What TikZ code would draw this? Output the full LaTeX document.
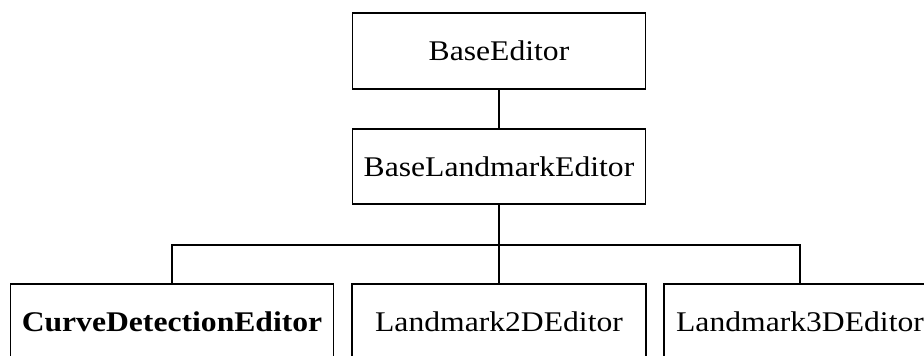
\documentclass[tikz,border=0pt]{standalone}
\usepackage{fontspec}
\setmainfont{Liberation Serif}[FakeStretch=1.11]
\begin{document}
\begin{tikzpicture}[x=1pt,y=-1pt,
  cls/.style={draw=black, line width=1.8pt, rectangle, inner sep=0pt, minimum height=76pt,
    font=\fontsize{28.5}{34}\selectfont, text=black},
  conn/.style={draw=black, line width=1.8pt}]
\useasboundingbox (0,0) rectangle (924,356);
\clip (0,0) rectangle (924,356);
\node[cls, minimum width=293pt] (be) at (499,51) {BaseEditor};
\node[cls, minimum width=293pt, minimum height=75pt] (ble) at (499,166.5) {BaseLandmarkEditor};
\node[cls, minimum width=323pt] (cde) at (172,322) {\bfseries CurveDetectionEditor};
\node[cls, minimum width=294pt] (l2d) at (499,322) {Landmark2DEditor};
\node[cls, minimum width=272pt] (l3d) at (800,322) {Landmark3DEditor};
\coordinate (bus) at (499,245);
\draw[conn] (be.south) -- (ble.north);
\draw[conn] (ble.south) -- (l2d.north);
\draw[conn] (cde.north) |- (bus) -| (l3d.north);
\end{tikzpicture}
\end{document}
